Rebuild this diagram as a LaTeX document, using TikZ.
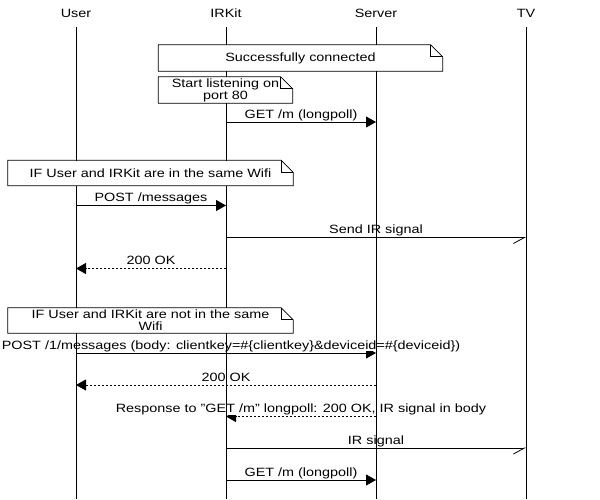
\documentclass[tikz,border=0pt]{standalone}
\usepackage{fontspec}
\setmainfont{Liberation Sans}[FakeStretch=1.2]
\usepackage{tikz}
\usetikzlibrary{arrows.meta}

\tikzset{
  actor/.style={font=\fontsize{12}{12}\selectfont, inner sep=1pt},
  lifeline/.style={line width=0.8pt},
  msg/.style={line width=0.8pt, -{Triangle[length=10pt,width=11pt]}},
  reply/.style={msg, dash pattern=on 2pt off 2pt},
  signal/.style={line width=0.8pt, -{Straight Barb[right,length=11pt,width=12pt]}},
  msglabel/.style={font=\fontsize{12}{12}\selectfont, fill=white, inner xsep=1pt, inner ysep=0pt, anchor=base, yshift=4pt},
  note/.style={font=\fontsize{12}{12}\selectfont, fill=white, align=center, inner sep=0pt},
}

% outline of a note with a folded corner
\newcommand{\foldnote}[1]{%
  \draw[line width=0.8pt] (#1.south west) -- (#1.north west) -- ([xshift=-12pt]#1.north east)
     -- ([yshift=-12pt]#1.north east) -- (#1.south east) -- cycle;
  \draw[line width=0.8pt] ([xshift=-12pt]#1.north east) -- ([xshift=-12pt,yshift=-12pt]#1.north east)
     -- ([yshift=-12pt]#1.north east);
}

\begin{document}
\begin{tikzpicture}[x=1pt,y=-1pt]
   \useasboundingbox (0,0) rectangle (600,499);

   \node[actor] (user) at (76,13) {User};
   \node[actor] (irkit) at (226,13) {IRKit};
   \node[actor] (server) at (376,13) {Server};
   \node[actor] (tv) at (526,13) {TV};

   \coordinate (top) at (0,27);
   \coordinate (bot) at (0,499);

   \coordinate (m1) at (0,122);
   \coordinate (m2) at (0,205.5);
   \coordinate (m3) at (0,237.5);
   \coordinate (m4) at (0,268.5);
   \coordinate (m5) at (0,353);
   \coordinate (m6) at (0,385);
   \coordinate (m7) at (0,416.5);
   \coordinate (m8) at (0,448);
   \coordinate (m9) at (0,480);

   % messages
   \draw[msg] (irkit |- m1) -- node[msglabel] (l1) {GET /m (longpoll)} (server |- m1);
   \draw[msg] (user |- m2) -- node[msglabel] (l2) {POST /messages} (irkit |- m2);
   \draw[signal] (irkit |- m3) -- node[msglabel] (l3) {Send IR signal} (tv |- m3);
   \draw[reply] (irkit |- m4) -- node[msglabel] (l4) {200 OK} (user |- m4);
   \draw[msg] (user |- m5) -- node[msglabel, xshift=5pt] (l5) {POST /1/messages (body: clientkey=\#\{clientkey\}\&deviceid=\#\{deviceid\})} (server |- m5);
   \draw[reply] (server |- m6) -- node[msglabel] (l6) {200 OK} (user |- m6);
   \draw[reply] (server |- m7) -- node[msglabel] (l7) {Response to "GET /m" longpoll: 200 OK, IR signal in body} (irkit |- m7);
   \draw[signal] (irkit |- m8) -- node[msglabel] (l8) {IR signal} (tv |- m8);
   \draw[msg] (irkit |- m9) -- node[msglabel] (l9) {GET /m (longpoll)} (server |- m9);

   % lifelines
   \foreach \a in {user,irkit,server,tv}
      \draw[lifeline] (\a |- top) -- (\a |- bot);

   % notes
   \node[note, minimum width=284pt, minimum height=26pt] (connected) at (300.5,58) {Successfully connected};
   \foldnote{connected}
   \node[note, minimum width=134pt, minimum height=26pt] (listening) at (225.5,90) {Start listening on\\port 80};
   \foldnote{listening}
   \node[note, minimum width=285pt, minimum height=25pt] (samewifi) at (150.5,173) {IF User and IRKit are in the same Wifi};
   \foldnote{samewifi}
   \node[note, minimum width=285pt, minimum height=25pt] (otherwifi) at (150.5,320.5) {IF User and IRKit are not in the same\\Wifi};
   \foldnote{otherwifi}
\end{tikzpicture}
\end{document}
